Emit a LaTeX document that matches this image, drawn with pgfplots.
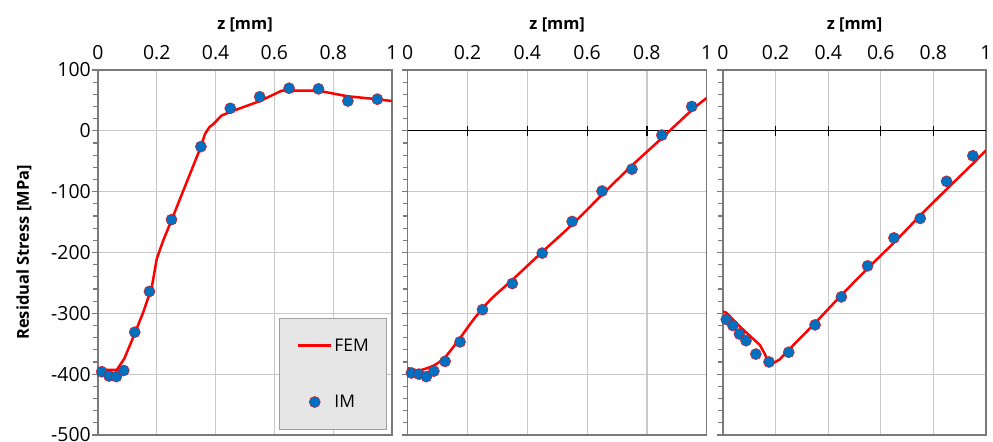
\documentclass[border=0pt]{standalone}
\usepackage{pgfplots}
\pgfplotsset{compat=1.18}
\usepackage{fontspec}
\setmainfont{Open Sans}
\definecolor{gridc}{HTML}{C8C8C8}
\definecolor{framec}{HTML}{7A7A7A}
\definecolor{imblue}{HTML}{0070C0}
\definecolor{legfill}{HTML}{E6E6E6}
\definecolor{legdraw}{HTML}{A0A0A0}

\pgfplotsset{
  panel/.style={
    scale only axis, anchor=south west, height=365bp,
    xmin=0, xmax=1, ymin=-500, ymax=100,
    xtick={0,0.2,0.4,0.6,0.8,1}, xticklabels={0,0.2,0.4,0.6,0.8,1},
    ytick={-500,-400,-300,-200,-100,0,100},
    minor y tick num=4,
    xmajorgrids, ymajorgrids,
    grid style={gridc, line width=1.2bp},
    axis line style={framec, line width=1.2bp},
    ytick pos=left, tick align=outside,
    major tick length=6bp, minor tick length=5bp,
    ytick style={framec, line width=1.2bp},
    xtick style={draw=none},
    xticklabel pos=upper,
    xticklabel style={font=\fontsize{19.5}{19.5}\selectfont, inner sep=0pt, anchor=south},
    xticklabel shift=4bp,
    yticklabel style={font=\fontsize{19.5}{19.5}\selectfont, inner sep=0pt},
    yticklabel shift=1bp,
    xlabel={z [mm]},
    xlabel style={font=\bfseries\fontsize{16.5}{16.5}\selectfont, at={(axis description cs:0.5,1.123)}, anchor=center},
    clip=true,
  },
  fem/.style={red, line width=2.5bp,
    legend image code/.code={\draw[red, line width=2.5bp] (0bp,0bp) -- (33bp,0bp);}},
  im/.style={only marks, mark=*, mark size=5.6bp,
    mark options={fill=imblue, draw=red, line width=0.4bp},
    legend image code/.code={\draw[mark repeat=2,mark phase=2,##1] plot coordinates {(0bp,0bp) (16.5bp,0bp) (33bp,0bp)};}},
}

\pgfplotstableread{
z s
0 -393
0.064 -393
0.09 -374
0.126 -332
0.154 -298
0.183 -257
0.2 -210
0.222 -180
0.25 -147
0.35 -26
0.364 -5
0.379 6
0.392 11
0.42 25
0.449 31
0.551 49
0.625 66
0.75 66
0.846 57
0.948 52
1 49
}\femA
\pgfplotstableread{
z s
0.0125 -396
0.0375 -403
0.0625 -404
0.0875 -394
0.125 -331
0.175 -264
0.25 -146
0.35 -26
0.45 37
0.55 56
0.65 70
0.75 69
0.85 49
0.95 52
}\imA
\pgfplotstableread{
z s
0 -390
0.035 -394
0.086 -386
0.125 -372
0.173 -342
0.222 -309
0.278 -277
0.35 -245
0.45 -199
0.55 -154
0.65 -105
0.75 -57
0.85 -12
0.95 34
1 54
}\femB
\pgfplotstableread{
z s
0.0125 -398
0.0375 -400
0.0625 -404
0.0875 -395
0.125 -379
0.175 -347
0.25 -294
0.35 -251
0.45 -201
0.55 -149
0.65 -99
0.75 -63
0.85 -7
0.95 40
}\imB
\pgfplotstableread{
z s
0 -297
0.013 -299
0.039 -311
0.077 -327
0.14 -352
0.158 -366
0.171 -378
0.19 -382
0.215 -376
0.25 -360
0.35 -316
0.45 -270
0.55 -226
0.65 -184
0.75 -139
0.85 -96
0.95 -54
1 -32
}\femC
\pgfplotstableread{
z s
0.0125 -310
0.0375 -320
0.0625 -334
0.0875 -345
0.125 -367
0.175 -380
0.25 -364
0.35 -319
0.45 -273
0.55 -222
0.65 -176
0.75 -144
0.85 -83
0.95 -41
}\imC

\begin{document}
\begin{tikzpicture}
\path[use as bounding box] (0,0) rectangle (993bp,442bp);

\begin{axis}[panel, at={(98bp,7bp)}, width=294bp,
  yticklabels={-500,-400,-300,-200,-100,0,100},
  ylabel={Residual Stress [MPa]},
  ylabel style={font=\bfseries\fontsize{16.5}{16.5}\selectfont, at={(axis description cs:-0.252,0.5)}, anchor=center},
  legend style={at={(0.6156,0.0137)}, anchor=south west, fill=legfill, draw=legdraw, line width=1bp,
    inner xsep=17.5bp, inner ysep=20.5bp, row sep=42.5bp, column sep=2bp,
    font=\fontsize{17.5}{17.5}\selectfont, nodes={inner sep=0pt}},
  legend cell align=left]
\addplot[fem] table[x=z,y=s] {\femA};
\addlegendentry{FEM}
\addplot[im] table[x=z,y=s] {\imA};
\addlegendentry{IM}
\end{axis}

\begin{axis}[panel, at={(407.7bp,7bp)}, width=299bp, yticklabels={}]
\draw[black, line width=1.2bp] (axis cs:0,0) -- (axis cs:1,0);
\pgfplotsinvokeforeach{0.2,0.4,0.6,0.8}{\draw[black, line width=1.2bp] ([yshift=-5bp]axis cs:#1,0) -- ([yshift=5bp]axis cs:#1,0);}
\addplot[fem, smooth] table[x=z,y=s] {\femB};
\addplot[im] table[x=z,y=s] {\imB};
\end{axis}

\begin{axis}[panel, at={(723bp,7bp)}, width=263bp, yticklabels={}]
\draw[black, line width=1.2bp] (axis cs:0,0) -- (axis cs:1,0);
\pgfplotsinvokeforeach{0.2,0.4,0.6,0.8}{\draw[black, line width=1.2bp] ([yshift=-5bp]axis cs:#1,0) -- ([yshift=5bp]axis cs:#1,0);}
\addplot[fem] table[x=z,y=s] {\femC};
\addplot[im] table[x=z,y=s] {\imC};
\end{axis}
\end{tikzpicture}
\end{document}
